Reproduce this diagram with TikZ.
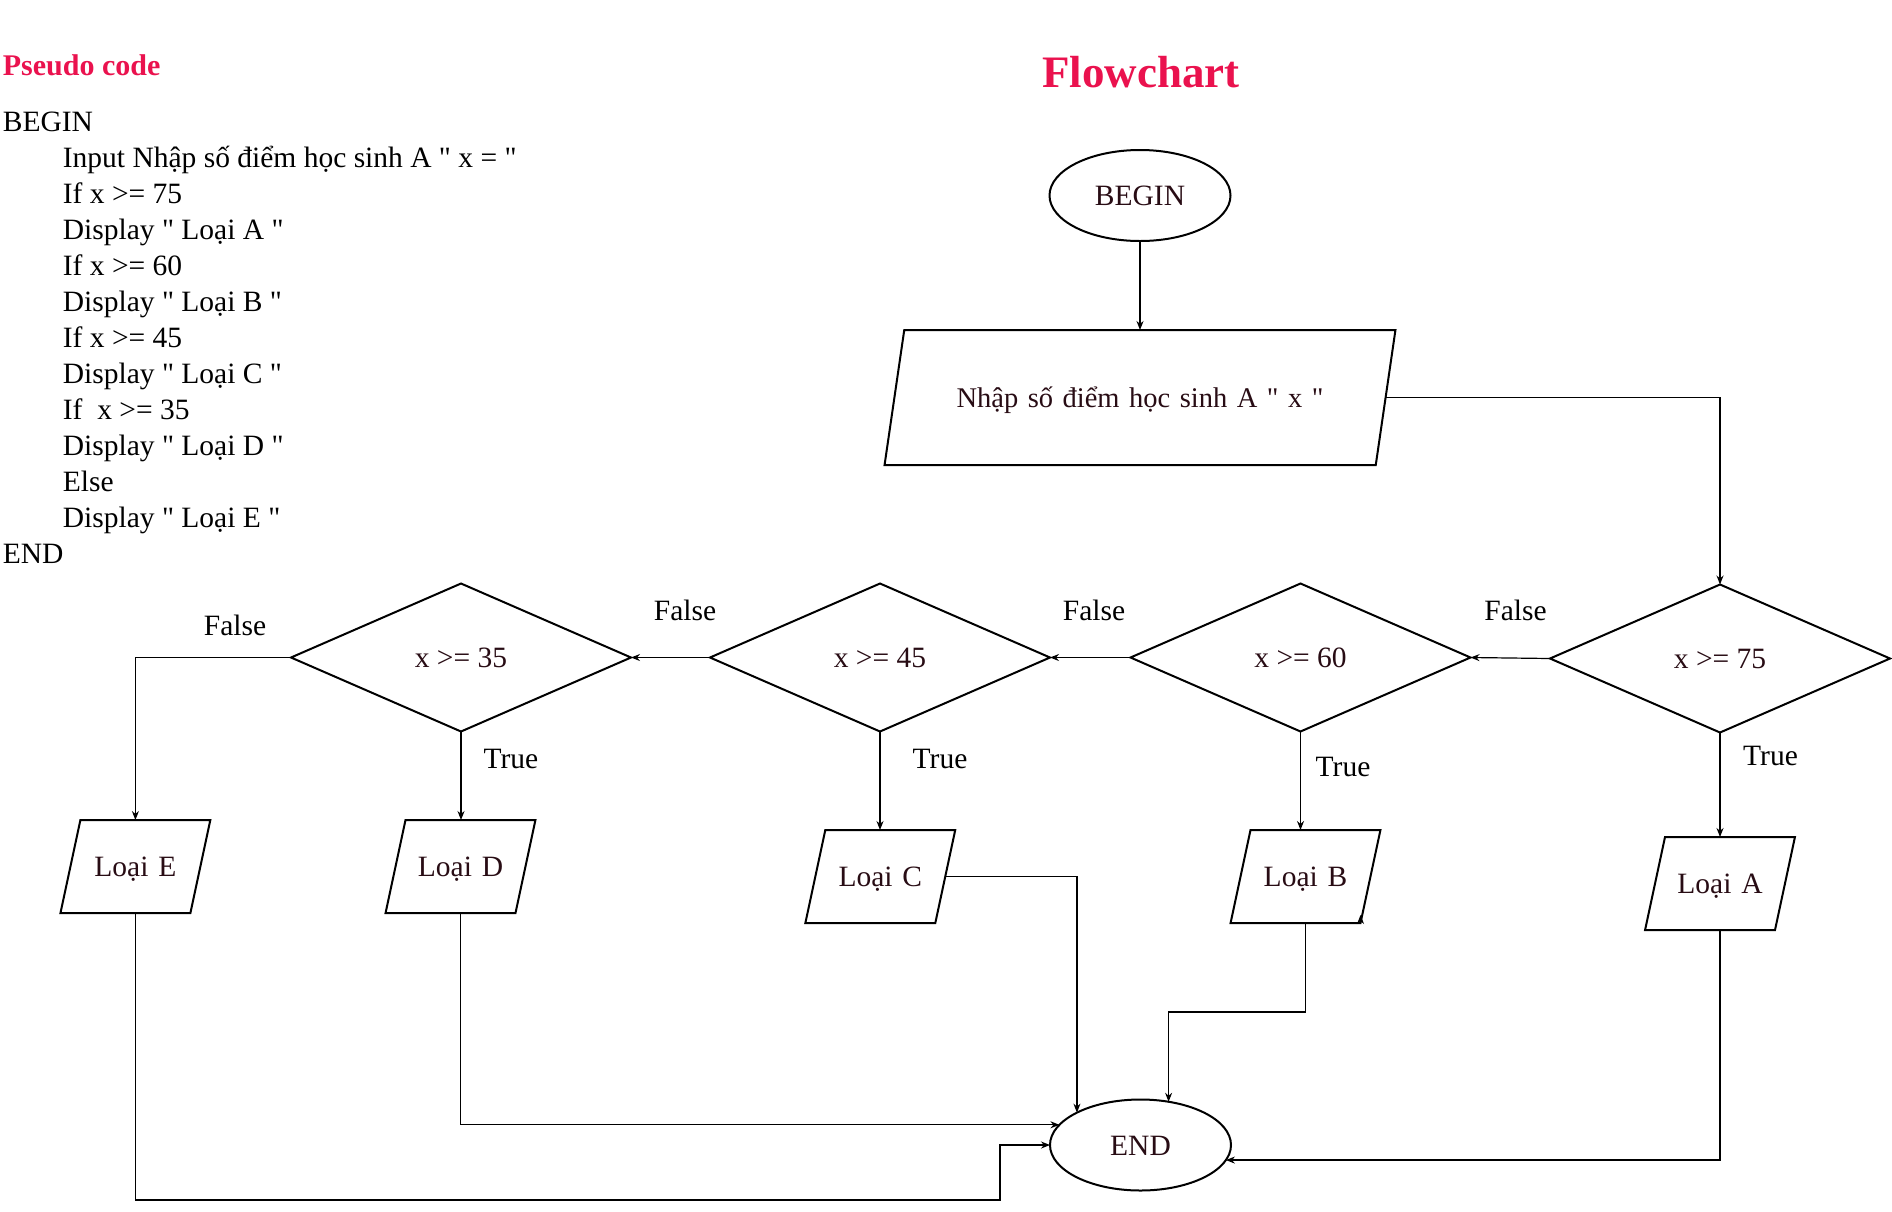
\documentclass[tikz,border=0pt]{standalone}
\usepackage{fontspec}
\setmainfont{Liberation Serif}
\newfontfamily\qfont{Liberation Serif}
\newcommand\dq{{\qfont"}}
\usetikzlibrary{shapes.geometric,arrows.meta,calc}
\definecolor{titlered}{RGB}{234,18,78}
\definecolor{ink}{RGB}{40,12,20}
\begin{document}
\begin{tikzpicture}[x=1pt,y=-1pt,
  txt/.style={font=\fontsize{29.5}{36}\selectfont, inner sep=0pt},
  code/.style={txt, anchor=base west},
  box/.style={draw, line width=2pt, inner sep=0pt, outer sep=0pt,
    font=\fontsize{29.5}{36}\selectfont, text=ink},
  term/.style={box, ellipse, minimum width=181, minimum height=91, text height=20pt, text depth=0pt},
  dec/.style={box, diamond, minimum width=340, minimum height=148, text height=20pt, text depth=0pt},
  io/.style={box, trapezium, trapezium left angle=77.9, trapezium right angle=102.1,
    text width=110pt, align=center, text height=56.5pt, text depth=36.5pt},
  lbl/.style={txt, anchor=base},
  conn/.style={line width=1.2pt, -{Stealth[length=9pt,width=7pt]}}]
\useasboundingbox (0,0) rectangle (1892,1211);

% headings
\node[font=\bfseries\fontsize{30}{36}\selectfont, text=titlered, anchor=base west, inner sep=0pt] (pt) at (2.7,75) {Pseudo code};
\node[font=\bfseries\fontsize{45}{54}\selectfont, text=titlered, anchor=base, inner sep=0pt] (ft) at (1141,87) {Flowchart};

% pseudo code
\node[code] (p0)  at (2.7,131) {BEGIN};
\node[code] (p1)  at (62.7,167) {Input Nhập số điểm học sinh A \dq{} x = \dq};
\node[code] (p2)  at (62.7,203) {If x >= 75};
\node[code] (p3)  at (62.7,239) {Display \dq{} Loại A \dq};
\node[code] (p4)  at (62.7,275) {If x >= 60};
\node[code] (p5)  at (62.7,311) {Display \dq{} Loại B \dq};
\node[code] (p6)  at (62.7,347) {If x >= 45};
\node[code] (p7)  at (62.7,383) {Display \dq{} Loại C \dq};
\node[code] (p8)  at (62.7,419) {If~ x >= 35};
\node[code] (p9)  at (62.7,455) {Display \dq{} Loại D \dq};
\node[code] (p10) at (62.7,491) {Else};
\node[code] (p11) at (62.7,527) {Display \dq{} Loại E \dq};
\node[code] (p12) at (2.7,563) {END};

% flowchart nodes
\node[term] (begin) at (1140,195.5) {BEGIN};
\node[io, trapezium left angle=81.7, trapezium right angle=98.3, text width=471.5pt,
  text height=77.5pt, text depth=57.5pt, font=\fontsize{28.5}{34}\selectfont] (input) at (1140,397.5) {Nhập số điểm học sinh A \dq{} x \dq};
\node[dec] (d75) at (1720,658.5) {x >= 75};
\node[dec] (d60) at (1300.5,657.5) {x >= 60};
\node[dec] (d45) at (880,657.5) {x >= 45};
\node[dec] (d35) at (461,657.5) {x >= 35};
\node[io] (lA) at (1720,883.5) {Loại A};
\node[io] (lB) at (1305.5,876.5) {Loại B};
\node[io] (lC) at (880.3,876.5) {Loại C};
\node[io] (lD) at (460.5,866.5) {Loại D};
\node[io] (lE) at (135.4,866.5) {Loại E};
\node[term] (end) at (1140.5,1145) {END};

% labels
\node[lbl] (f1) at (1515.5,620) {False};
\node[lbl] (f2) at (1094,620) {False};
\node[lbl] (f3) at (685,620) {False};
\node[lbl] (f4) at (235,635) {False};
\node[lbl] (t1) at (1770.5,765.5) {True};
\node[lbl] (t2) at (1343,776) {True};
\node[lbl] (t3) at (940,768.5) {True};
\node[lbl] (t4) at (511,768.5) {True};

% connectors
\draw[conn] (begin.south) -- (begin.south |- input.north);
\draw[conn] (input.east) -| (d75.north);
\draw[conn] (d75.west) -- (d60.east);
\draw[conn] (d60.west) -- (d45.east);
\draw[conn] (d45.west) -- (d35.east);
\draw[conn] (d35.west) -| (lE.center |- lE.north);
\draw[conn] (d35.south) -- (d35.south |- lD.north);
\draw[conn] (d45.south) -- (d45.south |- lC.north);
\draw[conn] (d60.south) -- (d60.south |- lB.north);
\draw[conn] (d75.south) -- (d75.south |- lA.north);
\draw[conn] (lC.east) -| (end.153);
\draw[conn] (lB.center |- lB.south) -- ++(0,89) -| (end.57);
\draw[conn] (lD.center |- lD.south) |- (end.166);
\coordinate (eturn) at (1000,1200);
\draw[conn] (lE.center |- lE.south) |- (eturn) |- (end.west);
\draw[conn] (lA.center |- lA.south) |- (end.350);
\draw[conn] (lB.bottom right corner) -- ++(0,-8);
\end{tikzpicture}
\end{document}
